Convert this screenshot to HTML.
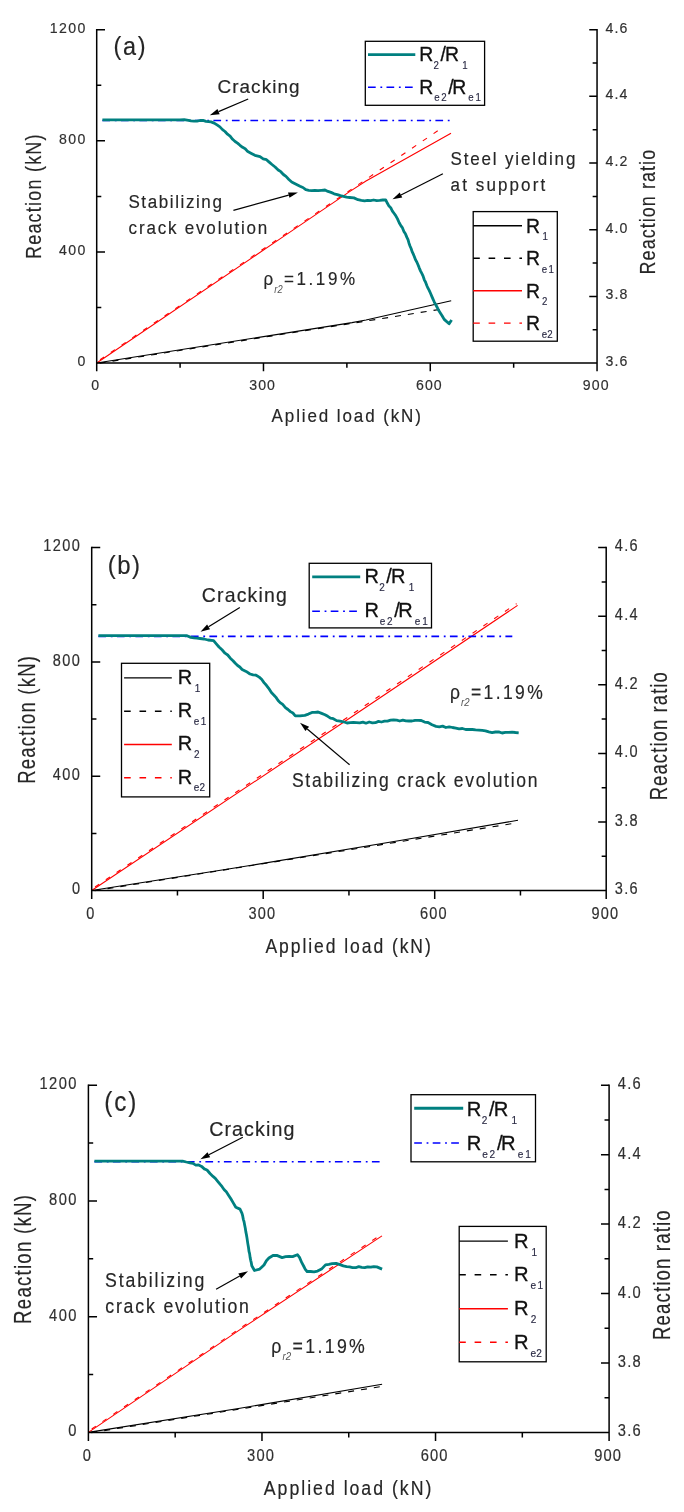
<!DOCTYPE html>
<html lang="en"><head><meta charset="utf-8"><title>Reaction vs applied load</title>
<style>
html,body{margin:0;padding:0;background:#fff;}
svg{display:block;font-family:"Liberation Sans",Arial,Helvetica,sans-serif;}
</style></head>
<body>
<svg width="684" height="1512" viewBox="0 0 684 1512">
<rect width="684" height="1512" fill="#fff"/>
<g id="chart-a">
<polyline points="96.7,363.0 352.0,322.6 366.0,320.0 451.2,300.7" fill="none" stroke="#000" stroke-width="1.15"/>
<polyline points="96.7,363.6 443.0,308.9" fill="none" stroke="#000" stroke-width="1.15" stroke-dasharray="6 7" stroke-dashoffset="-3"/>
<polyline points="96.7,363.0 280.0,238.9 350.0,191.4 366.0,181.0 451.0,133.2" fill="none" stroke="#f00" stroke-width="1.1"/>
<polyline points="96.7,362.0 443.0,127.2" fill="none" stroke="#f00" stroke-width="1.1" stroke-dasharray="5 8" stroke-dashoffset="-4"/>
<polyline points="102.4,120.5 450.0,120.5" fill="none" stroke="#00f" stroke-width="1.6" stroke-dasharray="7.7 4.7 1.8 4.3"/>
<polyline points="102.4,119.9 180.0,119.9 184.2,119.7 188.5,120.3 191.0,120.8 194.0,121.1 197.0,121.2 200.0,120.5 203.0,120.4 206.0,121.4 211.0,121.9 214.2,123.1 217.4,125.2 219.9,126.9 222.5,129.6 225.0,131.5 227.5,134.2 230.1,136.1 232.6,139.3 235.1,141.5 237.5,143.1 240.0,145.3 242.6,147.3 245.2,148.7 247.8,151.6 251.4,153.5 254.9,155.3 260.0,156.7 263.2,158.9 266.5,159.7 269.2,162.1 272.0,164.5 275.1,167.0 278.2,170.0 280.8,171.7 283.4,174.5 286.0,176.4 288.9,179.5 291.7,182.0 294.6,183.5 300.0,186.2 302.9,187.5 305.8,189.7 308.7,190.3 311.8,190.6 314.9,190.3 318.0,190.6 321.5,190.3 325.0,190.0 328.0,191.4 331.0,192.4 334.1,193.8 337.3,194.6 340.4,195.6 343.5,196.3 346.6,197.2 349.7,197.5 353.9,197.9 358.0,199.7 361.3,200.4 364.6,200.8 367.6,200.4 370.6,200.6 373.6,200.0 376.7,200.7 379.7,200.4 382.7,200.0 385.7,199.8 387.4,203.3 389.0,206.1 390.7,207.7 392.4,211.1 394.0,213.3 395.7,215.6 397.5,218.9 399.2,222.7 401.0,225.9 402.5,227.9 403.9,231.4 405.4,233.7 406.9,237.4 408.0,239.7 409.0,243.2 410.1,246.2 411.1,248.5 412.2,251.9 413.2,253.9 414.3,256.5 415.6,259.9 416.8,262.0 418.1,265.0 419.3,268.1 420.6,271.1 421.8,273.4 423.1,276.1 424.3,279.8 425.5,282.0 426.8,285.5 428.0,288.2 429.2,290.4 430.5,293.3 431.7,296.1 433.0,299.1 434.2,301.8 435.6,304.5 437.1,307.2 438.6,310.3 440.0,312.5 442.1,315.7 444.2,319.4 449.1,323.8 451.6,319.9" fill="none" stroke="#008080" stroke-width="2.8" stroke-linejoin="round"/>
<path d="M96.70,28.95 V371.25 M95.95,363.05 H597.80 M597.05,28.95 V371.25" stroke="#000" stroke-width="1.5" fill="none"/>
<path d="M96.70,29.70 h8.30 M96.70,85.26 h4.60 M96.70,140.82 h8.30 M96.70,196.38 h4.60 M96.70,251.93 h8.30 M96.70,307.49 h4.60 M597.05,29.70 h-7.80 M597.05,63.03 h-4.40 M597.05,96.37 h-7.80 M597.05,129.71 h-4.40 M597.05,163.04 h-7.80 M597.05,196.38 h-4.40 M597.05,229.71 h-7.80 M597.05,263.05 h-4.40 M597.05,296.38 h-7.80 M597.05,329.71 h-4.40 M180.09,363.05 v4.80 M263.48,363.05 v8.20 M346.88,363.05 v4.80 M430.27,363.05 v8.20 M513.66,363.05 v4.80" stroke="#000" stroke-width="1.5" fill="none"/>
<text transform="translate(49.65,32.70) scale(0.93,1)" font-size="15.20" letter-spacing="1.505" fill="#303030" stroke="#303030" stroke-width="0.18">1200</text>
<text transform="translate(58.91,143.82) scale(0.93,1)" font-size="15.20" letter-spacing="1.505" fill="#303030" stroke="#303030" stroke-width="0.18">800</text>
<text transform="translate(58.91,254.93) scale(0.93,1)" font-size="15.20" letter-spacing="1.505" fill="#303030" stroke="#303030" stroke-width="0.18">400</text>
<text transform="translate(77.44,366.05) scale(0.93,1)" font-size="15.20" fill="#303030" stroke="#303030" stroke-width="0.18">0</text>
<text transform="translate(605.45,32.80) scale(0.93,1)" font-size="15.20" letter-spacing="1.290" fill="#303030" stroke="#303030" stroke-width="0.18">4.6</text>
<text transform="translate(605.45,99.47) scale(0.93,1)" font-size="15.20" letter-spacing="1.290" fill="#303030" stroke="#303030" stroke-width="0.18">4.4</text>
<text transform="translate(605.45,166.14) scale(0.93,1)" font-size="15.20" letter-spacing="1.290" fill="#303030" stroke="#303030" stroke-width="0.18">4.2</text>
<text transform="translate(605.45,232.81) scale(0.93,1)" font-size="15.20" letter-spacing="1.290" fill="#303030" stroke="#303030" stroke-width="0.18">4.0</text>
<text transform="translate(605.45,299.48) scale(0.93,1)" font-size="15.20" letter-spacing="1.290" fill="#303030" stroke="#303030" stroke-width="0.18">3.8</text>
<text transform="translate(605.45,366.15) scale(0.93,1)" font-size="15.20" letter-spacing="1.290" fill="#303030" stroke="#303030" stroke-width="0.18">3.6</text>
<text transform="translate(91.37,389.55) scale(0.93,1)" font-size="15.20" fill="#303030" stroke="#303030" stroke-width="0.18">0</text>
<text transform="translate(249.19,389.55) scale(0.93,1)" font-size="15.20" letter-spacing="1.183" fill="#303030" stroke="#303030" stroke-width="0.18">300</text>
<text transform="translate(415.97,389.55) scale(0.93,1)" font-size="15.20" letter-spacing="1.183" fill="#303030" stroke="#303030" stroke-width="0.18">600</text>
<text transform="translate(582.76,389.55) scale(0.93,1)" font-size="15.20" letter-spacing="1.183" fill="#303030" stroke="#303030" stroke-width="0.18">900</text>
<text transform="translate(113.60,54.70) scale(0.9,1)" font-size="26.00" letter-spacing="1.888" fill="#262626" stroke="#262626" stroke-width="0.18">(a)</text>
<text transform="translate(217.40,93.20) scale(1.0,1)" font-size="18.90" letter-spacing="1.089" fill="#262626" stroke="#262626" stroke-width="0.18">Cracking</text>
<line x1="248.20" y1="99.00" x2="218.54" y2="111.59" stroke="#000" stroke-width="1.2"/><polygon points="209.80,115.30 217.45,109.01 219.64,114.17" fill="#000"/>
<text transform="translate(128.40,208.20) scale(0.9,1)" font-size="18.90" letter-spacing="1.774" fill="#262626" stroke="#262626" stroke-width="0.18">Stabilizing</text>
<text transform="translate(128.60,233.60) scale(0.9,1)" font-size="18.90" letter-spacing="2.011" fill="#262626" stroke="#262626" stroke-width="0.18">crack evolution</text>
<line x1="233.40" y1="210.40" x2="288.74" y2="195.13" stroke="#000" stroke-width="1.2"/><polygon points="297.90,192.60 289.49,197.83 288.00,192.43" fill="#000"/>
<text transform="translate(450.60,164.80) scale(0.9,1)" font-size="18.90" letter-spacing="2.019" fill="#262626" stroke="#262626" stroke-width="0.18">Steel yielding</text>
<text transform="translate(450.60,190.50) scale(0.9,1)" font-size="18.90" letter-spacing="2.340" fill="#262626" stroke="#262626" stroke-width="0.18">at support</text>
<line x1="442.90" y1="173.70" x2="400.97" y2="195.00" stroke="#000" stroke-width="1.2"/><polygon points="392.50,199.30 399.70,192.50 402.24,197.49" fill="#000"/>
<text transform="translate(263.60,285.20) scale(0.9,1)" font-size="18.90" fill="#262626" stroke="#262626" stroke-width="0.18"><tspan x="0" y="0">ρ</tspan><tspan x="11.86" y="7.40" font-size="10.40" font-style="italic" fill="#555" stroke="none">r2</tspan><tspan x="22.67" y="0" letter-spacing="2.875">=1.19%</tspan></text>
<rect x="365.30" y="41.30" width="119.30" height="64.00" fill="#fff" stroke="#000" stroke-width="1.3"/>
<line x1="368.00" y1="54.70" x2="415.30" y2="54.70" stroke="#008080" stroke-width="2.80"/>
<line x1="368.00" y1="87.30" x2="413.00" y2="87.30" stroke="#0000ff" stroke-width="1.5" stroke-dasharray="7.7 4.7 1.8 4.3"/>
<text transform="translate(420.90,61.40) scale(0.97,1)" font-size="20.00" fill="#101010" stroke="#101010" stroke-width="0.3"><tspan x="-1.67" y="0">R</tspan><tspan x="13.09" y="7.60" font-size="10.00" fill="#2a2a44" stroke="#2a2a44" stroke-width="0.15">2</tspan><tspan x="20.31" y="0">/</tspan><tspan x="24.95" y="0">R</tspan><tspan x="42.68" y="7.60" font-size="10.00" fill="#2a2a44" stroke="#2a2a44" stroke-width="0.15">1</tspan></text>
<text transform="translate(420.90,93.80) scale(0.97,1)" font-size="20.00" fill="#101010" stroke="#101010" stroke-width="0.3"><tspan x="-1.67" y="0">R</tspan><tspan x="13.71" y="7.60" font-size="10.00" fill="#2a2a44" stroke="#2a2a44" stroke-width="0.15">e</tspan><tspan x="20.93" y="7.60" font-size="10.00" fill="#2a2a44" stroke="#2a2a44" stroke-width="0.15">2</tspan><tspan x="28.25" y="0">/</tspan><tspan x="32.27" y="0">R</tspan><tspan x="48.76" y="7.60" font-size="10.00" fill="#2a2a44" stroke="#2a2a44" stroke-width="0.15">e</tspan><tspan x="56.29" y="7.60" font-size="10.00" fill="#2a2a44" stroke="#2a2a44" stroke-width="0.15">1</tspan></text>
<rect x="473.20" y="211.60" width="84.10" height="129.60" fill="#fff" stroke="#000" stroke-width="1.3"/>
<line x1="473.20" y1="225.70" x2="522.00" y2="225.70" stroke="#000" stroke-width="1.35"/>
<text transform="translate(527.60,232.70) scale(0.97,1)" font-size="20.00" fill="#101010" stroke="#101010" stroke-width="0.3"><tspan x="-1.67" y="0">R</tspan><tspan x="15.46" y="7.60" font-size="10.00" fill="#2a2a44" stroke="#2a2a44" stroke-width="0.15">1</tspan></text>
<line x1="473.20" y1="258.20" x2="522.00" y2="258.20" stroke="#000" stroke-width="1.35" stroke-dasharray="6.6 8.8"/>
<text transform="translate(527.60,265.20) scale(0.97,1)" font-size="20.00" fill="#101010" stroke="#101010" stroke-width="0.3"><tspan x="-1.67" y="0">R</tspan><tspan x="14.54" y="7.60" font-size="10.00" fill="#2a2a44" stroke="#2a2a44" stroke-width="0.15">e</tspan><tspan x="21.55" y="7.60" font-size="10.00" fill="#2a2a44" stroke="#2a2a44" stroke-width="0.15">1</tspan></text>
<line x1="473.20" y1="290.70" x2="522.00" y2="290.70" stroke="#ff0000" stroke-width="1.35"/>
<text transform="translate(527.60,297.70) scale(0.97,1)" font-size="20.00" fill="#101010" stroke="#101010" stroke-width="0.3"><tspan x="-1.67" y="0">R</tspan><tspan x="14.74" y="7.60" font-size="10.00" fill="#2a2a44" stroke="#2a2a44" stroke-width="0.15">2</tspan></text>
<line x1="473.20" y1="323.10" x2="522.00" y2="323.10" stroke="#ff0000" stroke-width="1.35" stroke-dasharray="6.6 8.8"/>
<text transform="translate(527.60,330.10) scale(0.97,1)" font-size="20.00" fill="#101010" stroke="#101010" stroke-width="0.3"><tspan x="-1.67" y="0">R</tspan><tspan x="14.54" y="7.60" font-size="10.00" fill="#2a2a44" stroke="#2a2a44" stroke-width="0.15">e</tspan><tspan x="20.21" y="7.60" font-size="10.00" fill="#2a2a44" stroke="#2a2a44" stroke-width="0.15">2</tspan></text>
<text transform="translate(271.60,422.40) scale(0.9,1)" font-size="18.90" letter-spacing="2.102" fill="#262626" stroke="#262626" stroke-width="0.18">Aplied load (kN)</text>
<text transform="translate(40.60,259.00) rotate(-90) scale(0.8,1)" font-size="22.40" letter-spacing="1.568" fill="#262626" stroke="#262626" stroke-width="0.18">Reaction (kN)</text>
<text transform="translate(655.30,274.40) rotate(-90) scale(0.8,1)" font-size="22.40" letter-spacing="1.349" fill="#262626" stroke="#262626" stroke-width="0.18">Reaction ratio</text>
</g>
<g id="chart-b">
<polyline points="91.7,890.5 230.0,868.8 400.0,840.5 518.0,820.3" fill="none" stroke="#000" stroke-width="1.15"/>
<polyline points="91.7,891.2 516.0,823.0" fill="none" stroke="#000" stroke-width="1.15" stroke-dasharray="6 7" stroke-dashoffset="-3"/>
<polyline points="91.7,890.5 348.8,718.7 517.6,605.4" fill="none" stroke="#f00" stroke-width="1.1"/>
<polyline points="91.7,889.3 516.6,603.6" fill="none" stroke="#f00" stroke-width="1.1" stroke-dasharray="5 8" stroke-dashoffset="-4"/>
<polyline points="98.4,636.4 512.3,636.4" fill="none" stroke="#00f" stroke-width="1.6" stroke-dasharray="7.7 4.7 1.8 4.3"/>
<polyline points="98.4,635.7 187.0,635.7 190.8,637.4 193.9,637.8 196.9,638.1 200.0,638.5 204.0,639.0 208.0,640.0 213.6,640.7 216.3,643.9 219.0,647.0 222.0,649.8 225.0,653.2 227.7,655.0 230.3,658.2 233.0,660.7 235.3,663.3 237.6,665.5 239.8,667.0 242.1,669.5 246.1,671.4 250.0,674.0 253.1,674.9 256.1,675.2 259.2,677.1 261.6,679.2 264.0,682.6 266.4,685.3 268.7,688.3 271.4,692.6 274.0,695.2 276.0,697.4 278.1,700.5 280.1,702.6 282.7,704.4 285.4,707.6 288.0,709.5 290.4,711.6 292.9,713.0 295.3,715.8 300.0,715.8 304.8,715.3 308.4,714.1 312.0,712.4 315.1,712.3 318.1,712.0 321.6,713.4 325.0,714.7 327.8,716.3 330.5,718.1 333.3,718.7 336.6,720.6 340.0,721.2 343.5,721.8 347.0,723.0 350.2,722.6 353.4,722.4 356.5,722.6 359.7,722.8 362.9,722.1 366.0,723.2 369.2,722.0 372.4,722.9 375.4,722.7 378.5,721.4 381.5,722.0 384.5,721.2 387.5,721.2 390.6,720.2 393.6,720.0 396.7,720.1 399.7,721.0 402.8,720.1 405.9,720.8 408.9,721.0 412.0,721.0 415.1,720.3 418.1,720.3 421.2,720.5 424.6,722.1 428.0,722.5 432.0,724.8 436.0,726.4 439.3,726.8 442.6,726.1 445.9,727.5 449.2,726.8 452.5,727.5 455.8,728.1 459.1,728.8 462.4,728.5 465.7,729.5 469.0,729.4 472.3,729.5 475.6,729.9 478.9,730.1 482.2,730.4 485.5,730.8 488.8,731.9 492.1,732.6 495.4,732.0 498.7,731.9 502.1,733.0 505.4,732.4 508.7,732.3 512.0,732.1 515.4,732.5 518.7,732.8" fill="none" stroke="#008080" stroke-width="2.8" stroke-linejoin="round"/>
<path d="M91.70,546.85 V899.04 M90.95,890.60 H606.95 M606.20,546.85 V899.04" stroke="#000" stroke-width="1.5" fill="none"/>
<path d="M91.70,547.60 h8.54 M91.70,604.77 h4.73 M91.70,661.93 h8.54 M91.70,719.10 h4.73 M91.70,776.27 h8.54 M91.70,833.43 h4.73 M606.20,547.60 h-8.03 M606.20,581.90 h-4.53 M606.20,616.20 h-8.03 M606.20,650.50 h-4.53 M606.20,684.80 h-8.03 M606.20,719.10 h-4.53 M606.20,753.40 h-8.03 M606.20,787.70 h-4.53 M606.20,822.00 h-8.03 M606.20,856.30 h-4.53 M177.45,890.60 v4.94 M263.20,890.60 v8.44 M348.95,890.60 v4.94 M434.70,890.60 v8.44 M520.45,890.60 v4.94" stroke="#000" stroke-width="1.5" fill="none"/>
<text transform="translate(43.29,551.39) scale(0.93,1)" font-size="15.64" letter-spacing="1.549" fill="#303030" stroke="#303030" stroke-width="0.18">1200</text>
<text transform="translate(52.82,665.72) scale(0.93,1)" font-size="15.64" letter-spacing="1.549" fill="#303030" stroke="#303030" stroke-width="0.18">800</text>
<text transform="translate(52.82,780.05) scale(0.93,1)" font-size="15.64" letter-spacing="1.549" fill="#303030" stroke="#303030" stroke-width="0.18">400</text>
<text transform="translate(71.88,894.39) scale(0.93,1)" font-size="15.64" fill="#303030" stroke="#303030" stroke-width="0.18">0</text>
<text transform="translate(614.84,551.49) scale(0.93,1)" font-size="15.64" letter-spacing="1.328" fill="#303030" stroke="#303030" stroke-width="0.18">4.6</text>
<text transform="translate(614.84,620.09) scale(0.93,1)" font-size="15.64" letter-spacing="1.328" fill="#303030" stroke="#303030" stroke-width="0.18">4.4</text>
<text transform="translate(614.84,688.69) scale(0.93,1)" font-size="15.64" letter-spacing="1.328" fill="#303030" stroke="#303030" stroke-width="0.18">4.2</text>
<text transform="translate(614.84,757.29) scale(0.93,1)" font-size="15.64" letter-spacing="1.328" fill="#303030" stroke="#303030" stroke-width="0.18">4.0</text>
<text transform="translate(614.84,825.89) scale(0.93,1)" font-size="15.64" letter-spacing="1.328" fill="#303030" stroke="#303030" stroke-width="0.18">3.8</text>
<text transform="translate(614.84,894.49) scale(0.93,1)" font-size="15.64" letter-spacing="1.328" fill="#303030" stroke="#303030" stroke-width="0.18">3.6</text>
<text transform="translate(86.21,918.57) scale(0.93,1)" font-size="15.64" fill="#303030" stroke="#303030" stroke-width="0.18">0</text>
<text transform="translate(248.49,918.57) scale(0.93,1)" font-size="15.64" letter-spacing="1.217" fill="#303030" stroke="#303030" stroke-width="0.18">300</text>
<text transform="translate(419.99,918.57) scale(0.93,1)" font-size="15.64" letter-spacing="1.217" fill="#303030" stroke="#303030" stroke-width="0.18">600</text>
<text transform="translate(591.49,918.57) scale(0.93,1)" font-size="15.64" letter-spacing="1.217" fill="#303030" stroke="#303030" stroke-width="0.18">900</text>
<text transform="translate(107.70,573.70) scale(0.9,1)" font-size="26.60" letter-spacing="1.744" fill="#262626" stroke="#262626" stroke-width="0.18">(b)</text>
<text transform="translate(201.80,601.80) scale(1.0,1)" font-size="19.45" letter-spacing="1.180" fill="#262626" stroke="#262626" stroke-width="0.18">Cracking</text>
<line x1="239.80" y1="607.50" x2="208.58" y2="626.80" stroke="#000" stroke-width="1.2"/><polygon points="200.50,631.80 207.11,624.42 210.05,629.19" fill="#000"/>
<text transform="translate(292.00,786.50) scale(0.9,1)" font-size="19.45" letter-spacing="1.881" fill="#262626" stroke="#262626" stroke-width="0.18">Stabilizing crack evolution</text>
<line x1="349.60" y1="764.80" x2="307.25" y2="728.94" stroke="#000" stroke-width="1.2"/><polygon points="300.00,722.80 309.06,726.80 305.44,731.08" fill="#000"/>
<text transform="translate(450.00,698.50) scale(0.9,1)" font-size="19.45" fill="#262626" stroke="#262626" stroke-width="0.18"><tspan x="0" y="0">ρ</tspan><tspan x="12.21" y="7.61" font-size="10.70" font-style="italic" fill="#555" stroke="none">r2</tspan><tspan x="23.32" y="0" letter-spacing="2.657">=1.19%</tspan></text>
<rect x="309.20" y="563.30" width="122.30" height="64.60" fill="#fff" stroke="#000" stroke-width="1.3"/>
<line x1="312.20" y1="576.90" x2="360.20" y2="576.90" stroke="#008080" stroke-width="2.88"/>
<line x1="312.20" y1="611.30" x2="357.80" y2="611.30" stroke="#0000ff" stroke-width="1.5" stroke-dasharray="7.7 4.7 1.8 4.3"/>
<text transform="translate(366.10,582.90) scale(0.97,1)" font-size="20.58" fill="#101010" stroke="#101010" stroke-width="0.3"><tspan x="-1.72" y="0">R</tspan><tspan x="13.47" y="7.82" font-size="10.29" fill="#2a2a44" stroke="#2a2a44" stroke-width="0.15">2</tspan><tspan x="20.90" y="0">/</tspan><tspan x="25.67" y="0">R</tspan><tspan x="43.92" y="7.82" font-size="10.29" fill="#2a2a44" stroke="#2a2a44" stroke-width="0.15">1</tspan></text>
<text transform="translate(366.10,616.90) scale(0.97,1)" font-size="20.58" fill="#101010" stroke="#101010" stroke-width="0.3"><tspan x="-1.72" y="0">R</tspan><tspan x="14.11" y="7.82" font-size="10.29" fill="#2a2a44" stroke="#2a2a44" stroke-width="0.15">e</tspan><tspan x="21.53" y="7.82" font-size="10.29" fill="#2a2a44" stroke="#2a2a44" stroke-width="0.15">2</tspan><tspan x="29.07" y="0">/</tspan><tspan x="33.20" y="0">R</tspan><tspan x="50.18" y="7.82" font-size="10.29" fill="#2a2a44" stroke="#2a2a44" stroke-width="0.15">e</tspan><tspan x="57.92" y="7.82" font-size="10.29" fill="#2a2a44" stroke="#2a2a44" stroke-width="0.15">1</tspan></text>
<rect x="121.50" y="663.30" width="88.20" height="133.60" fill="#fff" stroke="#000" stroke-width="1.3"/>
<line x1="124.10" y1="677.90" x2="171.80" y2="677.90" stroke="#000" stroke-width="1.35"/>
<text transform="translate(179.30,683.70) scale(0.97,1)" font-size="20.58" fill="#101010" stroke="#101010" stroke-width="0.3"><tspan x="-1.72" y="0">R</tspan><tspan x="15.91" y="7.82" font-size="10.29" fill="#2a2a44" stroke="#2a2a44" stroke-width="0.15">1</tspan></text>
<line x1="124.10" y1="711.20" x2="171.80" y2="711.20" stroke="#000" stroke-width="1.35" stroke-dasharray="6.6 8.8"/>
<text transform="translate(179.30,717.00) scale(0.97,1)" font-size="20.58" fill="#101010" stroke="#101010" stroke-width="0.3"><tspan x="-1.72" y="0">R</tspan><tspan x="14.96" y="7.82" font-size="10.29" fill="#2a2a44" stroke="#2a2a44" stroke-width="0.15">e</tspan><tspan x="22.17" y="7.82" font-size="10.29" fill="#2a2a44" stroke="#2a2a44" stroke-width="0.15">1</tspan></text>
<line x1="124.10" y1="744.50" x2="171.80" y2="744.50" stroke="#ff0000" stroke-width="1.35"/>
<text transform="translate(179.30,750.30) scale(0.97,1)" font-size="20.58" fill="#101010" stroke="#101010" stroke-width="0.3"><tspan x="-1.72" y="0">R</tspan><tspan x="15.17" y="7.82" font-size="10.29" fill="#2a2a44" stroke="#2a2a44" stroke-width="0.15">2</tspan></text>
<line x1="124.10" y1="777.70" x2="171.80" y2="777.70" stroke="#ff0000" stroke-width="1.35" stroke-dasharray="6.6 8.8"/>
<text transform="translate(179.30,783.50) scale(0.97,1)" font-size="20.58" fill="#101010" stroke="#101010" stroke-width="0.3"><tspan x="-1.72" y="0">R</tspan><tspan x="14.96" y="7.82" font-size="10.29" fill="#2a2a44" stroke="#2a2a44" stroke-width="0.15">e</tspan><tspan x="20.79" y="7.82" font-size="10.29" fill="#2a2a44" stroke="#2a2a44" stroke-width="0.15">2</tspan></text>
<text transform="translate(265.40,952.90) scale(0.9,1)" font-size="19.45" letter-spacing="2.162" fill="#262626" stroke="#262626" stroke-width="0.18">Applied load (kN)</text>
<text transform="translate(35.20,783.80) rotate(-90) scale(0.8,1)" font-size="23.05" letter-spacing="1.571" fill="#262626" stroke="#262626" stroke-width="0.18">Reaction (kN)</text>
<text transform="translate(666.80,800.30) rotate(-90) scale(0.8,1)" font-size="23.05" letter-spacing="1.387" fill="#262626" stroke="#262626" stroke-width="0.18">Reaction ratio</text>
</g>
<g id="chart-c">
<polyline points="88.4,1432.4 240.0,1408.2 382.1,1384.2" fill="none" stroke="#000" stroke-width="1.15"/>
<polyline points="88.4,1433.1 381.0,1386.6" fill="none" stroke="#000" stroke-width="1.15" stroke-dasharray="6 7" stroke-dashoffset="-3"/>
<polyline points="88.4,1432.4 240.0,1329.6 382.0,1235.9" fill="none" stroke="#f00" stroke-width="1.1"/>
<polyline points="88.4,1431.2 240.0,1328.4 380.0,1235.4" fill="none" stroke="#f00" stroke-width="1.1" stroke-dasharray="5 8" stroke-dashoffset="-4"/>
<polyline points="94.4,1161.8 382.1,1161.8" fill="none" stroke="#00f" stroke-width="1.6" stroke-dasharray="7.7 4.7 1.8 4.3"/>
<polyline points="94.4,1161.1 182.6,1161.1 186.3,1162.0 190.0,1162.8 192.9,1163.4 195.8,1165.1 198.7,1165.0 201.6,1166.4 204.3,1168.9 207.0,1170.0 210.0,1173.5 213.0,1176.4 215.3,1178.3 217.7,1181.3 220.0,1184.2 222.1,1186.7 224.2,1189.7 226.3,1191.8 228.7,1195.5 231.0,1199.0 233.4,1203.1 235.8,1207.2 240.0,1209.1 242.0,1213.3 242.7,1215.9 243.3,1219.3 244.0,1221.5 244.6,1224.7 245.3,1228.2 245.8,1231.6 246.4,1234.5 246.9,1237.4 247.4,1240.9 247.9,1244.1 248.5,1247.5 249.0,1251.4 249.6,1253.6 250.1,1257.4 250.7,1260.3 251.2,1262.3 251.8,1265.7 254.5,1270.5 259.7,1269.1 261.9,1267.0 264.0,1265.0 266.4,1260.7 268.9,1258.0 273.0,1255.5 276.8,1255.4 282.1,1257.6 285.6,1256.7 289.1,1256.5 292.6,1256.6 297.4,1254.7 299.5,1257.4 301.8,1262.7 303.6,1266.0 305.3,1269.3 307.1,1271.5 310.6,1271.5 314.1,1271.8 317.6,1271.1 321.5,1269.1 325.5,1264.9 328.8,1264.4 332.1,1263.7 336.1,1263.3 340.0,1264.6 343.3,1265.9 346.6,1266.7 349.6,1266.8 352.6,1267.7 355.7,1267.7 358.7,1266.6 361.7,1267.3 364.7,1267.6 367.7,1266.8 370.8,1267.2 373.8,1266.6 376.8,1266.9 382.1,1269.1" fill="none" stroke="#008080" stroke-width="2.8" stroke-linejoin="round"/>
<path d="M88.40,1084.45 V1441.04 M87.65,1432.50 H609.85 M609.10,1084.45 V1441.04" stroke="#000" stroke-width="1.5" fill="none"/>
<path d="M88.40,1085.20 h8.64 M88.40,1143.08 h4.79 M88.40,1200.97 h8.64 M88.40,1258.85 h4.79 M88.40,1316.73 h8.64 M88.40,1374.62 h4.79 M609.10,1085.20 h-8.12 M609.10,1119.93 h-4.58 M609.10,1154.66 h-8.12 M609.10,1189.39 h-4.58 M609.10,1224.12 h-8.12 M609.10,1258.85 h-4.58 M609.10,1293.58 h-8.12 M609.10,1328.31 h-4.58 M609.10,1363.04 h-8.12 M609.10,1397.77 h-4.58 M175.18,1432.50 v5.00 M261.97,1432.50 v8.54 M348.75,1432.50 v5.00 M435.53,1432.50 v8.54 M522.32,1432.50 v5.00" stroke="#000" stroke-width="1.5" fill="none"/>
<text transform="translate(39.42,1089.02) scale(0.93,1)" font-size="15.82" letter-spacing="1.567" fill="#303030" stroke="#303030" stroke-width="0.18">1200</text>
<text transform="translate(49.06,1204.79) scale(0.93,1)" font-size="15.82" letter-spacing="1.567" fill="#303030" stroke="#303030" stroke-width="0.18">800</text>
<text transform="translate(49.06,1320.56) scale(0.93,1)" font-size="15.82" letter-spacing="1.567" fill="#303030" stroke="#303030" stroke-width="0.18">400</text>
<text transform="translate(68.35,1436.32) scale(0.93,1)" font-size="15.82" fill="#303030" stroke="#303030" stroke-width="0.18">0</text>
<text transform="translate(617.84,1089.13) scale(0.93,1)" font-size="15.82" letter-spacing="1.343" fill="#303030" stroke="#303030" stroke-width="0.18">4.6</text>
<text transform="translate(617.84,1158.59) scale(0.93,1)" font-size="15.82" letter-spacing="1.343" fill="#303030" stroke="#303030" stroke-width="0.18">4.4</text>
<text transform="translate(617.84,1228.05) scale(0.93,1)" font-size="15.82" letter-spacing="1.343" fill="#303030" stroke="#303030" stroke-width="0.18">4.2</text>
<text transform="translate(617.84,1297.51) scale(0.93,1)" font-size="15.82" letter-spacing="1.343" fill="#303030" stroke="#303030" stroke-width="0.18">4.0</text>
<text transform="translate(617.84,1366.97) scale(0.93,1)" font-size="15.82" letter-spacing="1.343" fill="#303030" stroke="#303030" stroke-width="0.18">3.8</text>
<text transform="translate(617.84,1436.43) scale(0.93,1)" font-size="15.82" letter-spacing="1.343" fill="#303030" stroke="#303030" stroke-width="0.18">3.6</text>
<text transform="translate(82.85,1460.79) scale(0.93,1)" font-size="15.82" fill="#303030" stroke="#303030" stroke-width="0.18">0</text>
<text transform="translate(247.09,1460.79) scale(0.93,1)" font-size="15.82" letter-spacing="1.231" fill="#303030" stroke="#303030" stroke-width="0.18">300</text>
<text transform="translate(420.65,1460.79) scale(0.93,1)" font-size="15.82" letter-spacing="1.231" fill="#303030" stroke="#303030" stroke-width="0.18">600</text>
<text transform="translate(594.22,1460.79) scale(0.93,1)" font-size="15.82" letter-spacing="1.231" fill="#303030" stroke="#303030" stroke-width="0.18">900</text>
<text transform="translate(104.30,1111.10) scale(0.9,1)" font-size="27.00" letter-spacing="2.036" fill="#262626" stroke="#262626" stroke-width="0.18">(c)</text>
<text transform="translate(209.20,1136.30) scale(1.0,1)" font-size="19.67" letter-spacing="1.081" fill="#262626" stroke="#262626" stroke-width="0.18">Cracking</text>
<line x1="242.80" y1="1137.20" x2="208.83" y2="1154.82" stroke="#000" stroke-width="1.2"/><polygon points="200.40,1159.20 207.54,1152.34 210.12,1157.31" fill="#000"/>
<text transform="translate(105.00,1286.50) scale(0.9,1)" font-size="19.67" letter-spacing="2.065" fill="#262626" stroke="#262626" stroke-width="0.18">Stabilizing</text>
<text transform="translate(105.20,1312.70) scale(0.9,1)" font-size="19.67" letter-spacing="2.039" fill="#262626" stroke="#262626" stroke-width="0.18">crack evolution</text>
<line x1="216.10" y1="1289.20" x2="239.72" y2="1275.95" stroke="#000" stroke-width="1.2"/><polygon points="248.00,1271.30 241.09,1278.39 238.34,1273.51" fill="#000"/>
<text transform="translate(271.30,1352.60) scale(0.9,1)" font-size="19.67" fill="#262626" stroke="#262626" stroke-width="0.18"><tspan x="0" y="0">ρ</tspan><tspan x="12.35" y="7.70" font-size="10.83" font-style="italic" fill="#555" stroke="none">r2</tspan><tspan x="23.59" y="0" letter-spacing="2.626">=1.19%</tspan></text>
<rect x="411.00" y="1094.70" width="124.50" height="67.10" fill="#fff" stroke="#000" stroke-width="1.3"/>
<line x1="414.20" y1="1108.20" x2="463.20" y2="1108.20" stroke="#008080" stroke-width="2.91"/>
<line x1="414.20" y1="1142.90" x2="460.50" y2="1142.90" stroke="#0000ff" stroke-width="1.5" stroke-dasharray="7.7 4.7 1.8 4.3"/>
<text transform="translate(468.50,1115.90) scale(0.97,1)" font-size="20.82" fill="#101010" stroke="#101010" stroke-width="0.3"><tspan x="-1.74" y="0">R</tspan><tspan x="13.63" y="7.91" font-size="10.41" fill="#2a2a44" stroke="#2a2a44" stroke-width="0.15">2</tspan><tspan x="21.14" y="0">/</tspan><tspan x="25.97" y="0">R</tspan><tspan x="44.43" y="7.91" font-size="10.41" fill="#2a2a44" stroke="#2a2a44" stroke-width="0.15">1</tspan></text>
<text transform="translate(468.50,1150.10) scale(0.97,1)" font-size="20.82" fill="#101010" stroke="#101010" stroke-width="0.3"><tspan x="-1.74" y="0">R</tspan><tspan x="14.27" y="7.91" font-size="10.41" fill="#2a2a44" stroke="#2a2a44" stroke-width="0.15">e</tspan><tspan x="21.79" y="7.91" font-size="10.41" fill="#2a2a44" stroke="#2a2a44" stroke-width="0.15">2</tspan><tspan x="29.41" y="0">/</tspan><tspan x="33.59" y="0">R</tspan><tspan x="50.76" y="7.91" font-size="10.41" fill="#2a2a44" stroke="#2a2a44" stroke-width="0.15">e</tspan><tspan x="58.60" y="7.91" font-size="10.41" fill="#2a2a44" stroke="#2a2a44" stroke-width="0.15">1</tspan></text>
<rect x="459.20" y="1226.40" width="87.00" height="135.40" fill="#fff" stroke="#000" stroke-width="1.3"/>
<line x1="459.20" y1="1241.10" x2="507.90" y2="1241.10" stroke="#000" stroke-width="1.35"/>
<text transform="translate(515.80,1247.89) scale(0.97,1)" font-size="20.82" fill="#101010" stroke="#101010" stroke-width="0.3"><tspan x="-1.74" y="0">R</tspan><tspan x="16.10" y="7.91" font-size="10.41" fill="#2a2a44" stroke="#2a2a44" stroke-width="0.15">1</tspan></text>
<line x1="459.20" y1="1274.70" x2="507.90" y2="1274.70" stroke="#000" stroke-width="1.35" stroke-dasharray="6.6 8.8"/>
<text transform="translate(515.80,1281.49) scale(0.97,1)" font-size="20.82" fill="#101010" stroke="#101010" stroke-width="0.3"><tspan x="-1.74" y="0">R</tspan><tspan x="15.13" y="7.91" font-size="10.41" fill="#2a2a44" stroke="#2a2a44" stroke-width="0.15">e</tspan><tspan x="22.43" y="7.91" font-size="10.41" fill="#2a2a44" stroke="#2a2a44" stroke-width="0.15">1</tspan></text>
<line x1="459.20" y1="1308.70" x2="507.90" y2="1308.70" stroke="#ff0000" stroke-width="1.35"/>
<text transform="translate(515.80,1315.49) scale(0.97,1)" font-size="20.82" fill="#101010" stroke="#101010" stroke-width="0.3"><tspan x="-1.74" y="0">R</tspan><tspan x="15.35" y="7.91" font-size="10.41" fill="#2a2a44" stroke="#2a2a44" stroke-width="0.15">2</tspan></text>
<line x1="459.20" y1="1342.20" x2="507.90" y2="1342.20" stroke="#ff0000" stroke-width="1.35" stroke-dasharray="6.6 8.8"/>
<text transform="translate(515.80,1348.99) scale(0.97,1)" font-size="20.82" fill="#101010" stroke="#101010" stroke-width="0.3"><tspan x="-1.74" y="0">R</tspan><tspan x="15.13" y="7.91" font-size="10.41" fill="#2a2a44" stroke="#2a2a44" stroke-width="0.15">e</tspan><tspan x="21.03" y="7.91" font-size="10.41" fill="#2a2a44" stroke="#2a2a44" stroke-width="0.15">2</tspan></text>
<text transform="translate(263.80,1494.70) scale(0.9,1)" font-size="19.67" letter-spacing="2.206" fill="#262626" stroke="#262626" stroke-width="0.18">Applied load (kN)</text>
<text transform="translate(31.20,1323.90) rotate(-90) scale(0.8,1)" font-size="23.32" letter-spacing="1.538" fill="#262626" stroke="#262626" stroke-width="0.18">Reaction (kN)</text>
<text transform="translate(669.70,1340.10) rotate(-90) scale(0.8,1)" font-size="23.32" letter-spacing="1.413" fill="#262626" stroke="#262626" stroke-width="0.18">Reaction ratio</text>
</g>
</svg>
</body></html>
